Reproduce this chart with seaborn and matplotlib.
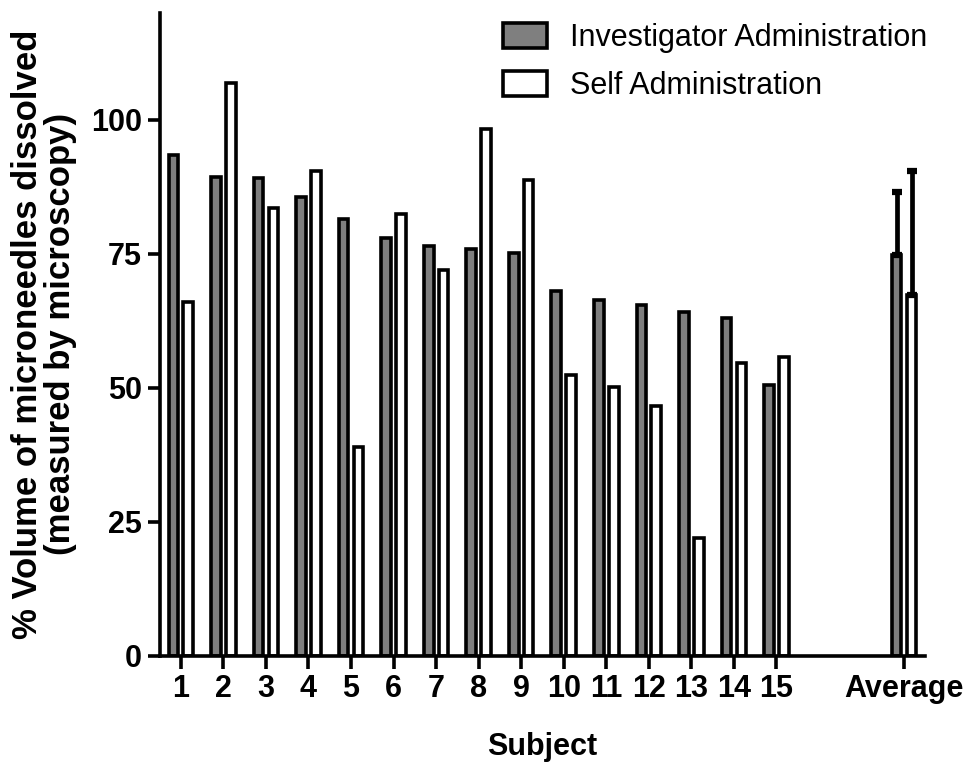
import matplotlib
matplotlib.use("Agg")
import matplotlib.pyplot as plt
import pandas as pd
import seaborn as sns

# values
subjects = [str(i) for i in range(1, 16)]
investigator = [93.5, 89.3, 89.2, 85.7, 81.6, 78.0, 76.4, 75.9, 75.1,
                68.0, 66.4, 65.4, 64.2, 63.1, 50.5]
self_admin = [66.0, 106.8, 83.6, 90.5, 38.9, 82.5, 72.0, 98.3, 88.7,
              52.4, 50.2, 46.7, 22.0, 54.7, 55.7]
average = [74.8, 67.3]
average_sd = [11.8, 23.1]
groups = ["Investigator Administration", "Self Administration"]
x_labels = subjects + ["Average"]
x_pos = list(range(1, 16)) + [18]

rows = []
for i, s in enumerate(subjects):
    rows.append({"pos": x_pos[i], "value": investigator[i], "group": groups[0]})
    rows.append({"pos": x_pos[i], "value": self_admin[i], "group": groups[1]})
for g, v in zip(groups, average):
    rows.append({"pos": x_pos[-1], "value": v, "group": g})
df = pd.DataFrame(rows)

sns.set_style("ticks")
plt.rcParams["font.family"] = ["Liberation Sans", "DejaVu Sans"]
plt.rcParams["text.color"] = "black"
plt.rcParams["axes.labelcolor"] = "black"
plt.rcParams["axes.edgecolor"] = "black"
plt.rcParams["xtick.color"] = "black"
plt.rcParams["ytick.color"] = "black"

fig = plt.figure(figsize=(9.65, 7.64), dpi=100)
ax = fig.add_axes([0.1658, 0.1414, 0.7927, 0.842])

sns.barplot(data=df, x="pos", y="value", hue="group", hue_order=groups,
            native_scale=True, palette={groups[0]: "#7f7f7f", groups[1]: "white"},
            edgecolor="black", linewidth=2.6, width=0.7, gap=0.35,
            legend=False, ax=ax)

# upper-only SD bars on the average bars
for cont, sd in zip(ax.containers, average_sd):
    bar = cont.patches[-1]
    ax.errorbar(bar.get_x() + bar.get_width() / 2, bar.get_height(),
                yerr=[[0], [sd]], fmt="none", ecolor="black",
                elinewidth=3.4, capsize=3.5, capthick=4.5)

ax.set_xlim(0.51, 18.49)
ax.set_ylim(0, 120)
ax.set_yticks([0, 25, 50, 75, 100])
ax.set_xticks(x_pos)
ax.set_xticklabels(x_labels)

sns.despine(ax=ax)
for side in ["left", "bottom"]:
    ax.spines[side].set_linewidth(2.6)
ax.tick_params(axis="both", width=2.6, length=9, labelsize=22, pad=4)
for lab in ax.get_xticklabels() + ax.get_yticklabels():
    lab.set_fontweight("bold")

ax.set_xlabel("Subject", fontsize=22, fontweight="bold", labelpad=20)
ax.set_ylabel("% Volume of microneedles dissolved\n(measured by microscopy)",
              fontsize=25, fontweight="bold", labelpad=10, linespacing=1.0)

ax.legend(handles=ax.containers[:2], labels=groups, frameon=False,
          loc="upper left", bbox_to_anchor=(0.505, 0.99),
          bbox_transform=fig.transFigure, fontsize=22,
          handlelength=1.45, handleheight=0.85, handletextpad=0.75,
          labelspacing=0.6, borderpad=0)

fig.savefig("out.png", dpi=100)
